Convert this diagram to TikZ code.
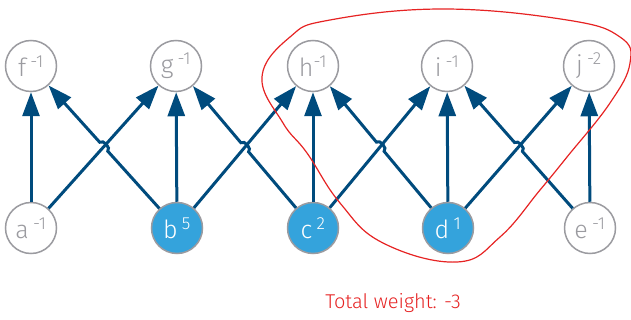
\documentclass[tikz,border=0pt]{standalone}
\usepackage{fontspec}
\setmainfont{Fira Sans Light}
\usetikzlibrary{arrows.meta, calc}

\definecolor{edgeblue}{RGB}{0,75,125}
\definecolor{nodeblue}{RGB}{52,163,220}
\definecolor{nodegray}{RGB}{155,155,160}
\definecolor{cutred}{RGB}{230,35,35}

\begin{document}
\begin{tikzpicture}[x=1pt, y=-1pt,
    vertex/.style={circle, draw=nodegray, line width=1.5pt, minimum size=51pt, inner sep=0pt, font=\fontsize{25}{27}\selectfont},
    plain/.style={vertex, fill=white, text=nodegray},
    chosen/.style={vertex, fill=nodeblue, text=white},
    link/.style={edgeblue, line width=3pt, -{Triangle[length=24pt, width=17pt]}}]

  \useasboundingbox (0,0) rectangle (631,320);

  % Top row
  \node[plain] (f) at (31,66)  {f\,\textsuperscript{-1}};
  \node[plain] (g) at (176,66) {g\,\textsuperscript{-1}};
  \node[plain] (h) at (313,66) {h\textsuperscript{-1}};
  \node[plain] (i) at (447,66) {i\,\textsuperscript{-1}};
  \node[plain] (j) at (589,66) {j\,\textsuperscript{-2}};

  % Bottom row
  \node[plain]  (a) at (31,228)  {a\,\textsuperscript{-1}};
  \node[chosen] (b) at (177,228) {b\,\textsuperscript{5}};
  \node[chosen] (c) at (313,228) {c\,\textsuperscript{2}};
  \node[chosen] (d) at (448,228) {d\,\textsuperscript{1}};
  \node[plain]  (e) at (590,228) {e\,\textsuperscript{-1}};

  % Crossing points
  \coordinate (x1) at (intersection of a--g and b--f);
  \coordinate (x2) at (intersection of b--h and c--g);
  \coordinate (x3) at (intersection of c--i and d--h);
  \coordinate (x4) at (intersection of d--j and e--i);

  % Straight edges
  \draw[link] (a) -- (f);
  \draw[link] (b) -- (g);
  \draw[link] (c) -- (h);
  \draw[link] (d) -- (i);
  \draw[link] (e) -- (j);

  % Rising diagonals
  \draw[link] (a) -- (g);
  \draw[link] (b) -- (h);
  \draw[link] (c) -- (i);
  \draw[link] (d) -- (j);

  % Falling diagonals, hopping over the rising ones
  \draw[link] (b) -- ($(x1)!6pt!(b)$) to[bend right=90] ($(x1)!6pt!(f)$) -- (f);
  \draw[link] (c) -- ($(x2)!6pt!(c)$) to[bend right=90] ($(x2)!6pt!(g)$) -- (g);
  \draw[link] (d) -- ($(x3)!6pt!(d)$) to[bend right=90] ($(x3)!6pt!(h)$) -- (h);
  \draw[link] (e) -- ($(x4)!6pt!(e)$) to[bend right=90] ($(x4)!6pt!(i)$) -- (i);

  % Cut around the chosen set
  \draw[cutred, line width=1.2pt] plot[smooth cycle, tension=0.7] coordinates {
    (262,77) (290,37) (330,20) (443,9) (567,20) (620,37) (630,63) (610,103)
    (567,157) (540,190) (500,237) (457,262) (383,243) (340,203) (307,153) (283,123)};

  \node[text=cutred, font=\fontsize{20}{22}\selectfont] (total) at (393,303) {Total weight: -3};

\end{tikzpicture}
\end{document}
